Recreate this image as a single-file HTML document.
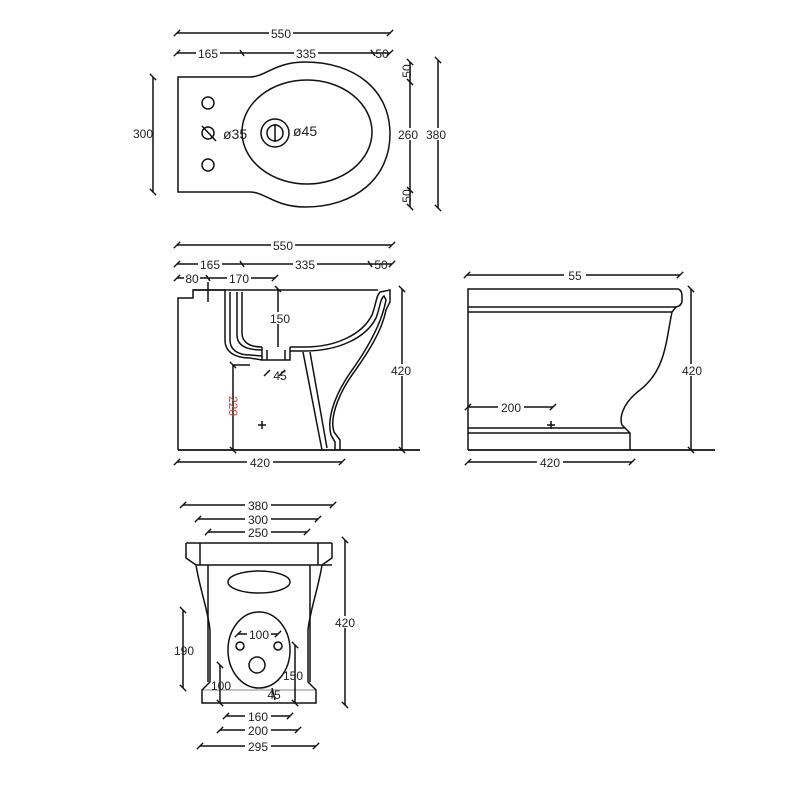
<!DOCTYPE html>
<html><head><meta charset="utf-8"><style>
html,body{margin:0;padding:0;background:#fff;}
svg{display:block;}
text{font-family:"Liberation Sans",sans-serif;font-size:12px;fill:#222;}
</style></head><body>
<svg width="800" height="800" viewBox="0 0 800 800" xmlns="http://www.w3.org/2000/svg">
<defs>
<marker id="t" viewBox="-5 -5 10 10" markerWidth="7" markerHeight="7" orient="auto">
<path d="M-3 3 L3 -3" stroke="#111" stroke-width="1.3"/></marker>
</defs>
<g stroke="#111" stroke-width="1.5" fill="none">
<!-- TOP VIEW -->
<line x1="177" y1="33" x2="390" y2="33" marker-start="url(#t)" marker-end="url(#t)"/>
<line x1="177" y1="53" x2="390" y2="53" marker-start="url(#t)" marker-end="url(#t)"/>
<path d="M240 50 L244 56 M371 50 L375 56"/>
<path d="M178 77 L250 77 C265 77 275 62 305 62 C355 62 390 90 390 134 C390 178 355 207 305 207 C275 207 265 192 250 192 L178 192 Z"/>
<ellipse cx="307" cy="132" rx="65" ry="52"/>
<circle cx="208" cy="103" r="6"/><circle cx="208" cy="133" r="6"/><circle cx="208" cy="165" r="6"/>
<path d="M202 126 L216 141"/>
<circle cx="275" cy="133" r="14"/><circle cx="275" cy="133" r="8"/><path d="M275 124 L275 142"/>
<line x1="153" y1="77" x2="153" y2="192" marker-start="url(#t)" marker-end="url(#t)"/>
<line x1="410" y1="62" x2="410" y2="207" marker-start="url(#t)" marker-end="url(#t)"/>
<path d="M407 79 L413 85 M407 187 L413 193"/>
<line x1="438" y1="60" x2="438" y2="208" marker-start="url(#t)" marker-end="url(#t)"/>
<!-- SIDE VIEW -->
<line x1="177" y1="245" x2="392" y2="245" marker-start="url(#t)" marker-end="url(#t)"/>
<line x1="177" y1="264" x2="392" y2="264" marker-start="url(#t)" marker-end="url(#t)"/>
<path d="M240 261 L244 267 M368 261 L372 267"/>
<line x1="177" y1="278" x2="275" y2="278" marker-start="url(#t)" marker-end="url(#t)"/>
<path d="M206 275 L210 281 M208 282 L208 302"/>
<path d="M178 450 L178 298 L193 298 L193 290 L225 290"/>
<path d="M178 450 L420 450" stroke-width="1.7"/>
<path d="M225 290 L225 340 C225 352 235 358 250 358 L262 360"/>
<path d="M230 292 L230 340 C230 350 238 355 250 355 L262 356"/>
<path d="M237 292 L237 335 C237 344 244 350 262 350"/>
<path d="M242 292 L242 333 C242 341 248 347 262 347"/>
<path d="M225 290 L242 290 M193 290 L378 290"/>
<path d="M262 347 L262 360 L290 360 L290 347 M267 350 L267 360 M285 350 L285 360"/>
<path d="M290 347 L305 347 C335 347 362 335 372 315 C376 305 376 296 380 292 L390 290 L390 302 L386 310 C382 330 370 350 352 375 C336 398 330 420 334 432 L340 440 L340 450"/>
<path d="M290 351 L305 351 C338 351 366 338 376 318 C380 308 380 299 384 296 L386 300 C382 322 368 348 350 373 C333 398 327 420 331 435 L335 442 L335 450"/>
<path d="M303 352 L322 450 M310 352 L327 448"/>
<line x1="278" y1="289" x2="278" y2="347"/><path d="M275 286 L281 292"/>
<line x1="233" y1="365" x2="233" y2="450" marker-start="url(#t)" marker-end="url(#t)"/>
<path d="M233 365 L250 365"/>
<path d="M264 376 L270 370 M279 376 L285 370"/>
<line x1="402" y1="289" x2="402" y2="450" marker-start="url(#t)" marker-end="url(#t)"/>
<line x1="177" y1="462" x2="342" y2="462" marker-start="url(#t)" marker-end="url(#t)"/>
<path d="M258 425 L266 425 M262 421 L262 429"/>
<!-- RIGHT VIEW -->
<line x1="467" y1="275" x2="680" y2="275" marker-start="url(#t)" marker-end="url(#t)"/>
<path d="M468 450 L468 289 L678 289 Q682 290 682 296 L682 300 Q682 306 676 307 L468 307 M468 312 L672 312 L676 307"/>
<path d="M672 312 C666 340 666 370 640 390 C620 405 620 420 622 425 L630 433 L630 450"/>
<path d="M468 428 L625 428 M468 433 L630 433" />
<path d="M468 450 L715 450" stroke-width="1.7"/>
<line x1="691" y1="289" x2="691" y2="450" marker-start="url(#t)" marker-end="url(#t)"/>
<line x1="468" y1="407" x2="553" y2="407" marker-start="url(#t)" marker-end="url(#t)"/>
<line x1="468" y1="462" x2="632" y2="462" marker-start="url(#t)" marker-end="url(#t)"/>
<path d="M547 425 L555 425 M551 421 L551 429"/>
<!-- FRONT VIEW -->
<line x1="183" y1="505" x2="333" y2="505" marker-start="url(#t)" marker-end="url(#t)"/>
<line x1="198" y1="519" x2="318" y2="519" marker-start="url(#t)" marker-end="url(#t)"/>
<line x1="208" y1="532" x2="307" y2="532" marker-start="url(#t)" marker-end="url(#t)"/>
<path d="M186 543 L332 543 M186 543 L186 558 L196 565 L332 565 M332 543 L332 558 L322 565"/>
<path d="M200 543 L200 565 M318 543 L318 565"/>
<path d="M196 565 C200 590 208 610 210 630 L210 682 L202 690 L202 703 L316 703 L316 690 L308 682 L308 630 C310 610 318 590 322 565"/>
<path d="M208 565 L208 682 M310 565 L310 682"/>
<path d="M202 690 L316 690" stroke-width="0.6"/>
<ellipse cx="259" cy="582" rx="31" ry="11"/>
<ellipse cx="259" cy="650" rx="31" ry="38"/>
<circle cx="240" cy="646" r="4"/><circle cx="278" cy="646" r="4"/><circle cx="257" cy="665" r="8"/>
<line x1="238" y1="634" x2="278" y2="634" marker-start="url(#t)" marker-end="url(#t)"/>
<line x1="345" y1="540" x2="345" y2="705" marker-start="url(#t)" marker-end="url(#t)"/>
<line x1="183" y1="610" x2="183" y2="688" marker-start="url(#t)" marker-end="url(#t)"/>
<line x1="220" y1="665" x2="220" y2="703" marker-start="url(#t)" marker-end="url(#t)"/>
<line x1="295" y1="645" x2="295" y2="703" marker-start="url(#t)" marker-end="url(#t)"/>
<path d="M272 688 L275 700"/>
<line x1="226" y1="716" x2="290" y2="716" marker-start="url(#t)" marker-end="url(#t)"/>
<line x1="220" y1="730" x2="298" y2="730" marker-start="url(#t)" marker-end="url(#t)"/>
<line x1="200" y1="746" x2="316" y2="746" marker-start="url(#t)" marker-end="url(#t)"/>
</g>
<g>
<rect x="269" y="27" width="24" height="12" fill="#fff"/><text x="281" y="38" text-anchor="middle">550</text>
<rect x="196" y="47" width="24" height="12" fill="#fff"/><text x="208" y="58" text-anchor="middle">165</text>
<rect x="294" y="47" width="24" height="12" fill="#fff"/><text x="306" y="58" text-anchor="middle">335</text>
<text x="382" y="58" text-anchor="middle">50</text>
<text x="143" y="138" text-anchor="middle">300</text>
<text x="223" y="139" style="font-size:14px">ø35</text>
<text x="293" y="136" style="font-size:14px">ø45</text>
<text x="407" y="75" text-anchor="middle" transform="rotate(-90 407 71)">50</text>
<text x="407" y="200" text-anchor="middle" transform="rotate(-90 407 196)">50</text>
<rect x="396" y="128" width="26" height="12" fill="#fff"/><text x="408" y="139" text-anchor="middle">260</text>
<rect x="424" y="128" width="26" height="12" fill="#fff"/><text x="436" y="139" text-anchor="middle">380</text>
<rect x="271" y="239" width="24" height="12" fill="#fff"/><text x="283" y="250" text-anchor="middle">550</text>
<rect x="198" y="258" width="24" height="12" fill="#fff"/><text x="210" y="269" text-anchor="middle">165</text>
<rect x="293" y="258" width="24" height="12" fill="#fff"/><text x="305" y="269" text-anchor="middle">335</text>
<text x="381" y="269" text-anchor="middle">50</text>
<rect x="184" y="272" width="16" height="12" fill="#fff"/><text x="192" y="283" text-anchor="middle">80</text>
<rect x="227" y="272" width="24" height="12" fill="#fff"/><text x="239" y="283" text-anchor="middle">170</text>
<rect x="268" y="312" width="24" height="12" fill="#fff"/><text x="280" y="323" text-anchor="middle">150</text>
<text x="280" y="380" text-anchor="middle">45</text>
<text x="233" y="410" text-anchor="middle" transform="rotate(90 233 406)" style="fill:#d04040">220</text>
<rect x="388" y="364" width="26" height="12" fill="#fff"/><text x="401" y="375" text-anchor="middle">420</text>
<rect x="247" y="456" width="26" height="12" fill="#fff"/><text x="260" y="467" text-anchor="middle">420</text>
<rect x="564" y="269" width="22" height="12" fill="#fff"/><text x="575" y="280" text-anchor="middle">55</text>
<rect x="498" y="401" width="26" height="12" fill="#fff"/><text x="511" y="412" text-anchor="middle">200</text>
<rect x="537" y="456" width="26" height="12" fill="#fff"/><text x="550" y="467" text-anchor="middle">420</text>
<rect x="679" y="364" width="26" height="12" fill="#fff"/><text x="692" y="375" text-anchor="middle">420</text>
<rect x="245" y="499" width="26" height="12" fill="#fff"/><text x="258" y="510" text-anchor="middle">380</text>
<rect x="245" y="513" width="26" height="12" fill="#fff"/><text x="258" y="524" text-anchor="middle">300</text>
<rect x="245" y="526" width="26" height="12" fill="#fff"/><text x="258" y="537" text-anchor="middle">250</text>
<rect x="247" y="628" width="24" height="12" fill="#fff"/><text x="259" y="639" text-anchor="middle">100</text>
<rect x="332" y="616" width="26" height="12" fill="#fff"/><text x="345" y="627" text-anchor="middle">420</text>
<text x="184" y="655" text-anchor="middle">190</text>
<text x="221" y="690" text-anchor="middle">100</text>
<text x="293" y="680" text-anchor="middle">150</text>
<text x="274" y="699" text-anchor="middle">45</text>
<rect x="245" y="710" width="26" height="12" fill="#fff"/><text x="258" y="721" text-anchor="middle">160</text>
<rect x="245" y="724" width="26" height="12" fill="#fff"/><text x="258" y="735" text-anchor="middle">200</text>
<rect x="245" y="740" width="26" height="12" fill="#fff"/><text x="258" y="751" text-anchor="middle">295</text>
</g>
</svg>
</body></html>
